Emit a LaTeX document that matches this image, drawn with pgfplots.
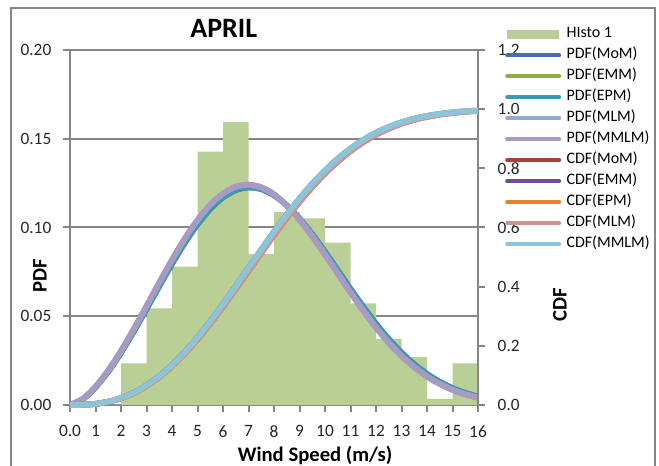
\documentclass[border=0pt]{standalone}
\usepackage{pgfplots}
\pgfplotsset{compat=1.18}
\usepackage{pgfplotstable}
\usepackage{fontspec}
\setmainfont{Carlito}

% Weibull fits, sampled every 0.5 m/s
% set A: PDF(MoM), PDF(EPM), CDF(MoM), CDF(EPM), CDF(MLM)
\pgfplotstableread{
x    pdf     cdf
0    0       0
0.5  0.00329 0.00063
1    0.00993 0.00383
1.5  0.01886 0.01094
2    0.02952 0.02298
2.5  0.04142 0.04066
3    0.05406 0.06451
3.5  0.06695 0.09477
4    0.07954 0.13141
4.5  0.09131 0.17417
5    0.10175 0.22253
5.5  0.11041 0.27566
6    0.11693 0.33255
6.5  0.12104 0.39215
7    0.12260 0.45317
7.5  0.12160 0.51432
8    0.11816 0.57436
8.5  0.11252 0.63212
9    0.10505 0.68658
9.5  0.09614 0.73693
10   0.08626 0.78256
10.5 0.07588 0.82311
11   0.06542 0.85842
11.5 0.05528 0.88858
12   0.04578 0.91381
12.5 0.03714 0.93450
13   0.02951 0.95111
13.5 0.02296 0.96419
14   0.01749 0.97426
14.5 0.01305 0.98185
15   0.00952 0.98746
15.5 0.00679 0.99151
16   0.00474 0.99437
}\fitA
% set B: PDF(EMM), PDF(MLM), PDF(MMLM), CDF(EMM), CDF(MMLM)
\pgfplotstableread{
x    pdf     cdf
0    0       0
0.5  0.00339 0.00065
1    0.01024 0.00395
1.5  0.01944 0.01128
2    0.03042 0.02368
2.5  0.04265 0.04190
3    0.05564 0.06646
3.5  0.06883 0.09757
4    0.08167 0.13522
4.5  0.09360 0.17909
5    0.10411 0.22861
5.5  0.11272 0.28291
6    0.11907 0.34094
6.5  0.12290 0.40153
7    0.12407 0.46336
7.5  0.12260 0.52515
8    0.11864 0.58558
8.5  0.11247 0.64344
9    0.10447 0.69775
9.5  0.09510 0.74768
10   0.08483 0.79265
10.5 0.07412 0.83243
11   0.06346 0.86683
11.5 0.05323 0.89595
12   0.04373 0.92015
12.5 0.03517 0.93984
13   0.02770 0.95550
13.5 0.02135 0.96772
14   0.01610 0.97703
14.5 0.01188 0.98398
15   0.00856 0.98906
15.5 0.00604 0.99268
16   0.00416 0.99520
}\fitB

\definecolor{histo}{RGB}{185,207,150}
\definecolor{axgray}{RGB}{134,134,134}
\definecolor{pMoM}{RGB}{68,110,172}
\definecolor{pEMM}{RGB}{138,174,72}
\definecolor{pEPM}{RGB}{58,154,179}
\definecolor{pMLM}{RGB}{147,169,209}
\definecolor{pMMLM}{RGB}{169,154,196}
\definecolor{cMoM}{RGB}{168,64,61}
\definecolor{cEMM}{RGB}{108,79,147}
\definecolor{cEPM}{RGB}{229,131,51}
\definecolor{cMLM}{RGB}{209,147,145}
\definecolor{cMMLM}{RGB}{140,196,216}

\pgfplotsset{
  common/.style={
    width=306pt, height=266.25pt, scale only axis,
    xmin=0, xmax=16,
    tick align=outside, major tick length=5.25pt,
    /pgf/number format/assume math mode=true,
    tick label style={font=\fontsize{13}{15}\selectfont, text=black!85},
    label style={font=\fontsize{15.5}{18}\selectfont\bfseries},
    axis line style={axgray, line width=1.5pt},
    every tick/.style={axgray, line width=1.5pt},
    clip=false,
  },
  curve/.style={line width=4.3pt, smooth, no marks},
  legend image code/.code={\draw[#1, line width=3pt, line cap=round] (1pt,0pt) -- (40pt,0pt);},
}

\begin{document}
\begin{tikzpicture}
\useasboundingbox (-52.5pt,-45.75pt) rectangle (441.75pt,303.75pt);
% chart frame
\draw[axgray, line width=1.4pt] (-44.25pt,-60pt) -- (-44.25pt,297.75pt) -- (438.75pt,297.75pt) -- (438.75pt,-60pt);

% PDF axis with histogram
\begin{axis}[common,
  ymin=0, ymax=0.2,
  axis x line*=bottom, axis y line*=left,
  xtick={0,...,16},
  xticklabels={0.0,1,2,3,4,5,6,7,8,9,10,11,12,13,14,15,16},
  xticklabel style={yshift=-6.5pt},
  ytick={0,0.05,0.1,0.15,0.2},
  yticklabel style={xshift=-5.25pt, /pgf/number format/.cd, fixed, fixed zerofill, precision=2},
  ymajorgrids, grid style={axgray, line width=1.5pt},
  title={APRIL},
  title style={at={(rel axis cs:0.377,1.037)}, anchor=center, font=\fontsize{21}{24}\selectfont\bfseries},
  xlabel={Wind Speed (m/s)},
  xlabel style={at={(rel axis cs:0.6005,-0.1408)}, anchor=center},
  ylabel={PDF},
  ylabel style={at={(rel axis cs:-0.0735,0.363)}, anchor=center, rotate=0},
]
\addplot[ybar interval, fill=histo, draw=none] coordinates {
  (0,0) (1,0) (2,0.0235) (3,0.0545) (4,0.078) (5,0.1428) (6,0.1593)
  (7,0.085) (8,0.1086) (9,0.1052) (10,0.0915) (11,0.0573) (12,0.0372)
  (13,0.027) (14,0.0034) (15,0.0235) (16,0)
};
\addplot[curve, pMoM]  table[x=x, y=pdf] {\fitA};
\addplot[curve, pEMM]  table[x=x, y=pdf] {\fitB};
\addplot[curve, pEPM]  table[x=x, y=pdf] {\fitA};
\addplot[curve, pMLM]  table[x=x, y=pdf] {\fitB};
\addplot[curve, pMMLM] table[x=x, y=pdf] {\fitB};
\end{axis}

% CDF axis on the right, carries the legend
\begin{axis}[common,
  ymin=0, ymax=1.2,
  hide x axis,
  axis y line*=right,
  ytick={0,0.2,0.4,0.6,0.8,1.0,1.2},
  yticklabel style={xshift=6pt, /pgf/number format/.cd, fixed, fixed zerofill, precision=1},
  ylabel={CDF},
  ylabel style={at={(rel axis cs:1.201,0.2817)}, anchor=center, rotate=0},
  legend style={at={(rel axis cs:1.066,1.0746)}, anchor=north west,
    draw=none, fill=none, inner sep=0pt,
    font=\fontsize{12}{14}\selectfont,
    nodes={inner sep=0pt, text height=10pt, text depth=5.75pt},
    /tikz/every odd column/.append style={column sep=4pt}},
  legend cell align=left,
]
\addlegendimage{legend image code/.code={\fill[histo] (1pt,-3pt) rectangle (39pt,3pt);}}
\addlegendentry{HIsto 1}
\addlegendimage{pMoM}\addlegendentry{PDF(MoM)}
\addlegendimage{pEMM}\addlegendentry{PDF(EMM)}
\addlegendimage{pEPM}\addlegendentry{PDF(EPM)}
\addlegendimage{pMLM}\addlegendentry{PDF(MLM)}
\addlegendimage{pMMLM}\addlegendentry{PDF(MMLM)}
\addplot[curve, cMoM]  table[x=x, y=cdf] {\fitA};\addlegendentry{CDF(MoM)}
\addplot[curve, cEMM]  table[x=x, y=cdf] {\fitB};\addlegendentry{CDF(EMM)}
\addplot[curve, cEPM]  table[x=x, y=cdf] {\fitA};\addlegendentry{CDF(EPM)}
\addplot[curve, cMLM]  table[x=x, y=cdf] {\fitA};\addlegendentry{CDF(MLM)}
\addplot[curve, cMMLM] table[x=x, y=cdf] {\fitB};\addlegendentry{CDF(MMLM)}
\end{axis}
\end{tikzpicture}
\end{document}
